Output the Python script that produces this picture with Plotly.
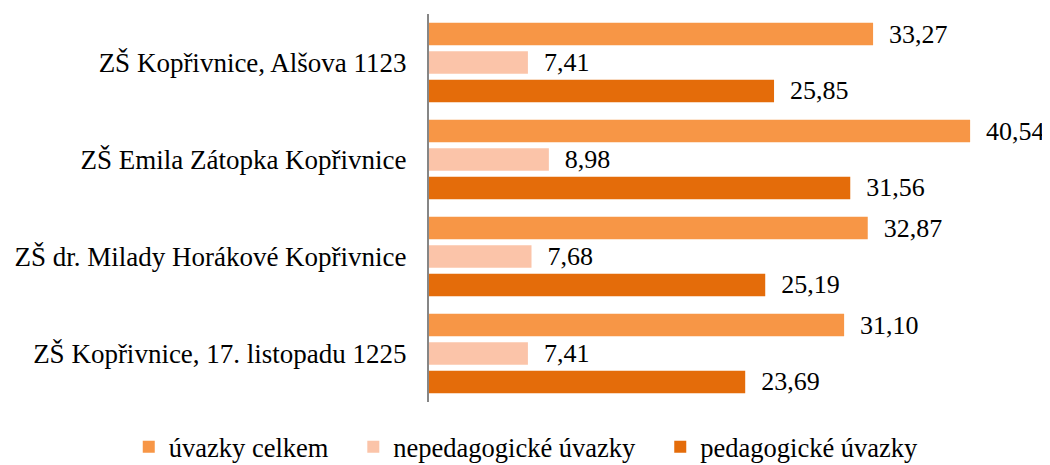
import plotly.graph_objects as go

categories = ["ZŠ Kopřivnice, Alšova 1123", "ZŠ Emila Zátopka Kopřivnice",
              "ZŠ dr. Milady Horákové Kopřivnice", "ZŠ Kopřivnice, 17. listopadu 1225"]
series_names = ["úvazky celkem", "nepedagogické úvazky", "pedagogické úvazky"]
uvazky_celkem = [33.27, 40.54, 32.87, 31.10]
nepedagogicke = [7.41, 8.98, 7.68, 7.41]
pedagogicke = [25.85, 31.56, 25.19, 23.69]
colors = ["#F79646", "#FBC4A9", "#E46C0A"]

FONT = "Liberation Serif"
NBSP = "\u00a0"

def fmt(v):
    return f"{v:.2f}".replace(".", ",")

fig = go.Figure()
for name, vals, col in zip(series_names, [uvazky_celkem, nepedagogicke, pedagogicke], colors):
    fig.add_trace(go.Bar(
        y=categories, x=vals, name=name + NBSP * 3, orientation="h",
        marker=dict(color=col, line=dict(width=0)),
        text=["  " + fmt(v) for v in vals], textposition="outside",
        constraintext="none",
        textfont=dict(family=FONT, size=26, color="black"),
        cliponaxis=False,
    ))

fig.update_layout(
    width=1042, height=475,
    margin=dict(l=415, r=7, t=6, b=81),
    paper_bgcolor="white", plot_bgcolor="white",
    barmode="group", bargap=0.119, bargroupgap=0.21,
    font=dict(family=FONT, size=26, color="black"),
    showlegend=True,
    legend=dict(orientation="h", x=-0.489, xanchor="left", y=-0.116, yanchor="middle",
                font=dict(family=FONT, size=26.5, color="black"), traceorder="normal",
                itemwidth=30),
    xaxis=dict(range=[0, 46], showgrid=False, showticklabels=False, zeroline=False,
               showline=False),
    yaxis=dict(autorange="reversed", showgrid=False, showline=True, linecolor="#868686",
               linewidth=2, ticks="", ticklabelstandoff=15,
               tickfont=dict(family=FONT, size=27, color="black")),
)

fig.write_html("out.html")
